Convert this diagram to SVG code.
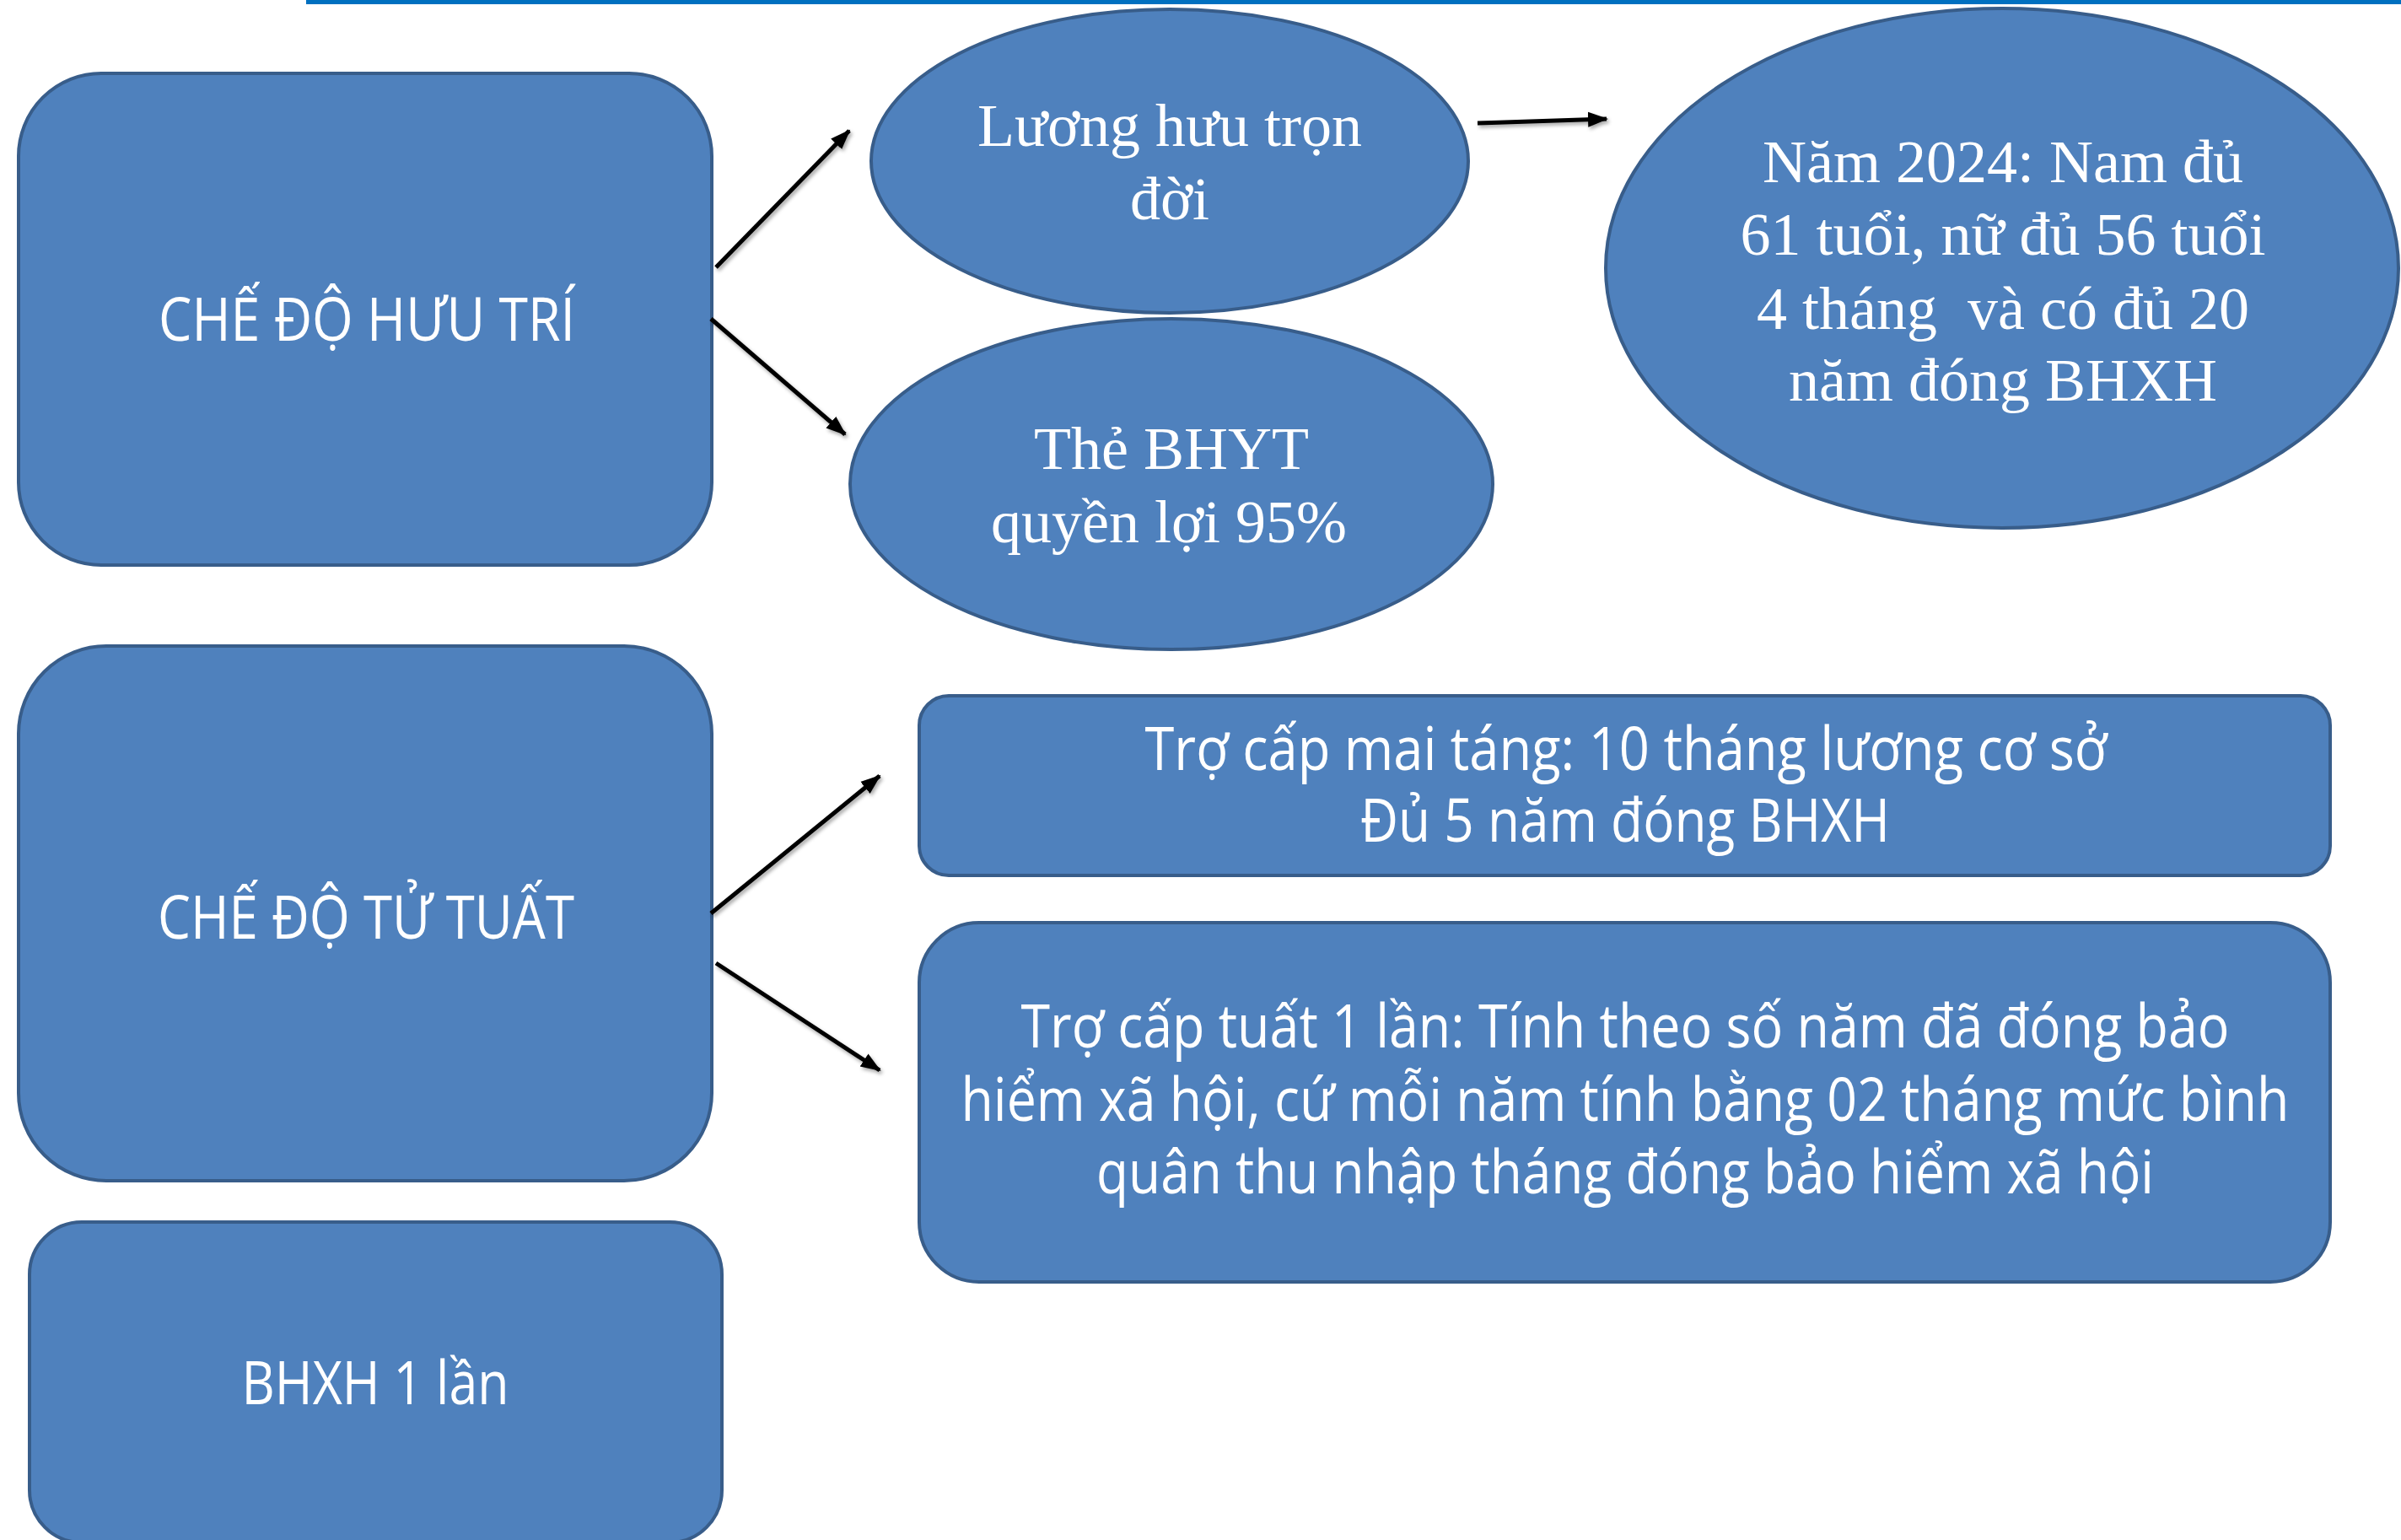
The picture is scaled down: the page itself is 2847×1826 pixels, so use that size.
<svg xmlns="http://www.w3.org/2000/svg" width="2847" height="1826" viewBox="0 0 2847 1826">
<defs>
<style>
.node{fill:#4F81BD;stroke:#385D8A;stroke-width:4}
.sans{font-family:"Open Sans","Noto Sans","DejaVu Sans",sans-serif;font-size:72px;fill:#FFFFFF;text-anchor:middle}
.serif{font-family:"Liberation Serif","DejaVu Serif",serif;font-size:72px;fill:#FFFFFF;text-anchor:middle;white-space:pre}
.conn{stroke:#000000;stroke-width:5;fill:none;marker-end:url(#arr);filter:url(#sh)}
</style>
<marker id="arr" markerUnits="userSpaceOnUse" markerWidth="24" markerHeight="20" refX="22" refY="10" orient="auto">
<path d="M0,1 L24,10 L0,19 z" fill="#000000"/>
</marker>
<filter id="sh" filterUnits="userSpaceOnUse" x="0" y="0" width="2847" height="1826">
<feDropShadow dx="2" dy="3" stdDeviation="2" flood-color="#000000" flood-opacity="0.35"/>
</filter>
</defs>
<rect x="363" y="0" width="2484" height="5" fill="#0070C0"/>
<g id="huu-tri">
<rect class="node" x="22" y="87" width="822" height="583" rx="98" ry="98"/>
<text class="sans" x="435" y="404" textLength="494" lengthAdjust="spacingAndGlyphs">CHẾ ĐỘ HƯU TRÍ</text>
</g>
<g id="luong-huu">
<ellipse class="node" cx="1387" cy="191" rx="354" ry="180"/>
<text class="serif" x="1387" y="173">Lương hưu trọn</text>
<text class="serif" x="1387" y="260">đời</text>
</g>
<g id="the-bhyt">
<ellipse class="node" cx="1389" cy="574" rx="381" ry="196"/>
<text class="serif" x="1389" y="556">Thẻ BHYT</text>
<text class="serif" x="1386" y="643">quyền lợi 95%</text>
</g>
<g id="dieu-kien">
<ellipse class="node" cx="2374" cy="318" rx="470" ry="308"/>
<text class="serif" x="2375" y="216">Năm 2024: Nam đủ</text>
<text class="serif" x="2375" y="302">61 tuổi, nữ đủ 56 tuổi</text>
<text class="serif" x="2375" y="390">4 tháng  và có đủ 20</text>
<text class="serif" x="2375" y="475">năm đóng BHXH</text>
</g>
<g id="tu-tuat">
<rect class="node" x="22" y="766" width="822" height="634" rx="104" ry="104"/>
<text class="sans" x="434" y="1113" textLength="494" lengthAdjust="spacingAndGlyphs">CHẾ ĐỘ TỬ TUẤT</text>
</g>
<g id="mai-tang">
<rect class="node" x="1090" y="825" width="1673" height="213" rx="35" ry="35"/>
<text class="sans" x="1928" y="913" textLength="1141" lengthAdjust="spacingAndGlyphs">Trợ cấp mai táng: 10 tháng lương cơ sở</text>
<text class="sans" x="1927" y="998" textLength="628" lengthAdjust="spacingAndGlyphs">Đủ 5 năm đóng BHXH</text>
</g>
<g id="tuat-1-lan">
<rect class="node" x="1090" y="1094" width="1673" height="426" rx="71" ry="71"/>
<text class="sans" x="1927" y="1242" textLength="1433" lengthAdjust="spacingAndGlyphs">Trợ cấp tuất 1 lần: Tính theo số năm đã đóng bảo</text>
<text class="sans" x="1927" y="1329" textLength="1575" lengthAdjust="spacingAndGlyphs">hiểm xã hội, cứ mỗi năm tính bằng 02 tháng mức bình</text>
<text class="sans" x="1927" y="1415" textLength="1254" lengthAdjust="spacingAndGlyphs">quân thu nhập tháng đóng bảo hiểm xã hội</text>
</g>
<g id="bhxh-1-lan">
<rect class="node" x="35" y="1449" width="821" height="380" rx="62" ry="62"/>
<text class="sans" x="445" y="1665" textLength="317" lengthAdjust="spacingAndGlyphs">BHXH 1 lần</text>
</g>
<g id="connectors">
<line class="conn" x1="849" y1="317" x2="1007" y2="155"/>
<line class="conn" x1="843" y1="378" x2="1002" y2="515"/>
<line class="conn" x1="1752" y1="146" x2="1905" y2="141"/>
<line class="conn" x1="843" y1="1083" x2="1043" y2="920"/>
<line class="conn" x1="849" y1="1142" x2="1043" y2="1269"/>
</g>
</svg>
